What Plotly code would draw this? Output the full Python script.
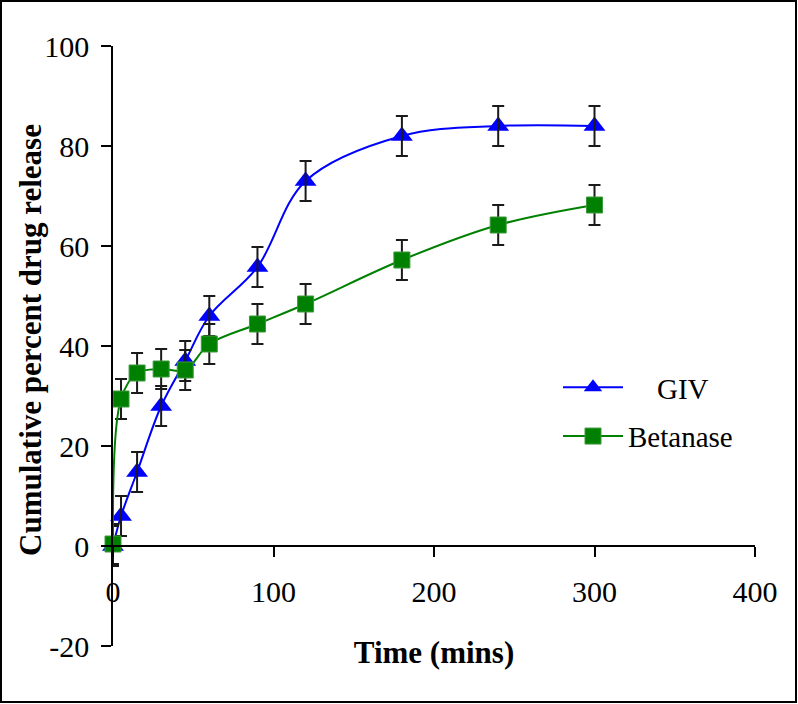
import plotly.graph_objects as go

# Sampling times (minutes)
time_min = [0, 5, 15, 30, 45, 60, 90, 120, 180, 240, 300]

# Cumulative percent drug release and standard deviations
giv = [0, 6, 14.8, 28, 37, 46, 55.8, 73, 82, 84, 84]
giv_sd = [4, 4, 4, 4, 4, 4, 4, 4, 4, 4, 4]
betanase = [0.4, 29.4, 34.6, 35.4, 35.2, 40.4, 44.4, 48.4, 57.2, 64.2, 68.2]
betanase_sd = [4, 4, 4, 4, 4, 4, 4, 4, 4, 4, 4]

x_ticks = [0, 100, 200, 300, 400]
y_ticks = [-20, 0, 20, 40, 60, 80, 100]

FONT = "Liberation Serif, Times New Roman, serif"
W, H = 798, 704
ML, MR, MT, MB = 113, 43, 46, 58
PW, PH = W - ML - MR, H - MT - MB

fig = go.Figure()

fig.add_trace(go.Scatter(
    x=time_min, y=giv, name="\u00a0\u00a0\u00a0\u00a0GIV", mode="lines+markers",
    line=dict(color="#0000FF", width=2, shape="spline", smoothing=1),
    marker=dict(symbol="triangle-up", size=19, color="#0000FF"),
    legendgroup="a", cliponaxis=False,
))
# error bars for GIV drawn over its markers
fig.add_trace(go.Scatter(
    x=time_min, y=giv, mode="markers", showlegend=False, hoverinfo="skip",
    marker=dict(size=1, opacity=0), cliponaxis=False,
    error_y=dict(type="data", array=giv_sd, visible=True,
                 color="#1a1a1a", thickness=2, width=6),
))
fig.add_trace(go.Scatter(
    x=time_min, y=betanase, name="Betanase", mode="lines+markers",
    line=dict(color="#008000", width=2, shape="spline", smoothing=1),
    marker=dict(symbol="square", size=16, color="#008000",
                line=dict(color="#3c9a3c", width=1)),
    error_y=dict(type="data", array=betanase_sd, visible=True,
                 color="#1a1a1a", thickness=2, width=6),
    legendgroup="b", cliponaxis=False,
))

# outer frame around the whole figure
fig.add_shape(type="rect", xref="paper", yref="paper",
              x0=(1 - ML) / PW, x1=(W - 2 - ML) / PW,
              y0=(PH + MT - (H - 2)) / PH, y1=(PH + MT - 1) / PH,
              line=dict(color="black", width=2), fillcolor="rgba(0,0,0,0)",
              layer="below")

# vertical axis title
fig.add_annotation(
    text="<b>Cumulative percent drug release</b>", textangle=-90,
    xref="paper", yref="paper", x=(30 - ML) / PW, y=(PH + MT - 340) / PH,
    xanchor="center", yanchor="middle", showarrow=False,
    font=dict(family=FONT, size=31, color="black"),
)

fig.update_layout(
    width=W, height=H,
    margin=dict(l=ML, r=MR, t=MT, b=MB),
    paper_bgcolor="white", plot_bgcolor="white",
    font=dict(family=FONT, size=30, color="black"),
    showlegend=True,
    legend=dict(x=(558 - ML) / PW, y=(PH + MT - 362) / PH,
                xanchor="left", yanchor="top",
                font=dict(family=FONT, size=29, color="black"),
                bgcolor="rgba(0,0,0,0)", tracegroupgap=8,
                itemwidth=60),
    xaxis=dict(
        range=[0, 400], tickvals=x_ticks, ticktext=[str(v) for v in x_ticks],
        showgrid=False, zeroline=False, showline=True,
        linecolor="black", linewidth=1.5,
        ticks="outside", ticklen=10, tickwidth=1.5, tickcolor="black",
        anchor="free", position=20 / 120, ticklabelstandoff=9,
        title=dict(text="<b>Time (mins)</b>", font=dict(size=31), standoff=34),
        automargin=True,
    ),
    yaxis=dict(
        range=[-20, 100], tickvals=y_ticks, ticktext=[str(v) for v in y_ticks],
        showgrid=False, zeroline=False, showline=True,
        linecolor="black", linewidth=1.5,
        ticks="outside", ticklen=10, tickwidth=1.5, tickcolor="black",
        ticklabelstandoff=6,
        automargin=False,
    ),
)

fig.write_html("out.html")
